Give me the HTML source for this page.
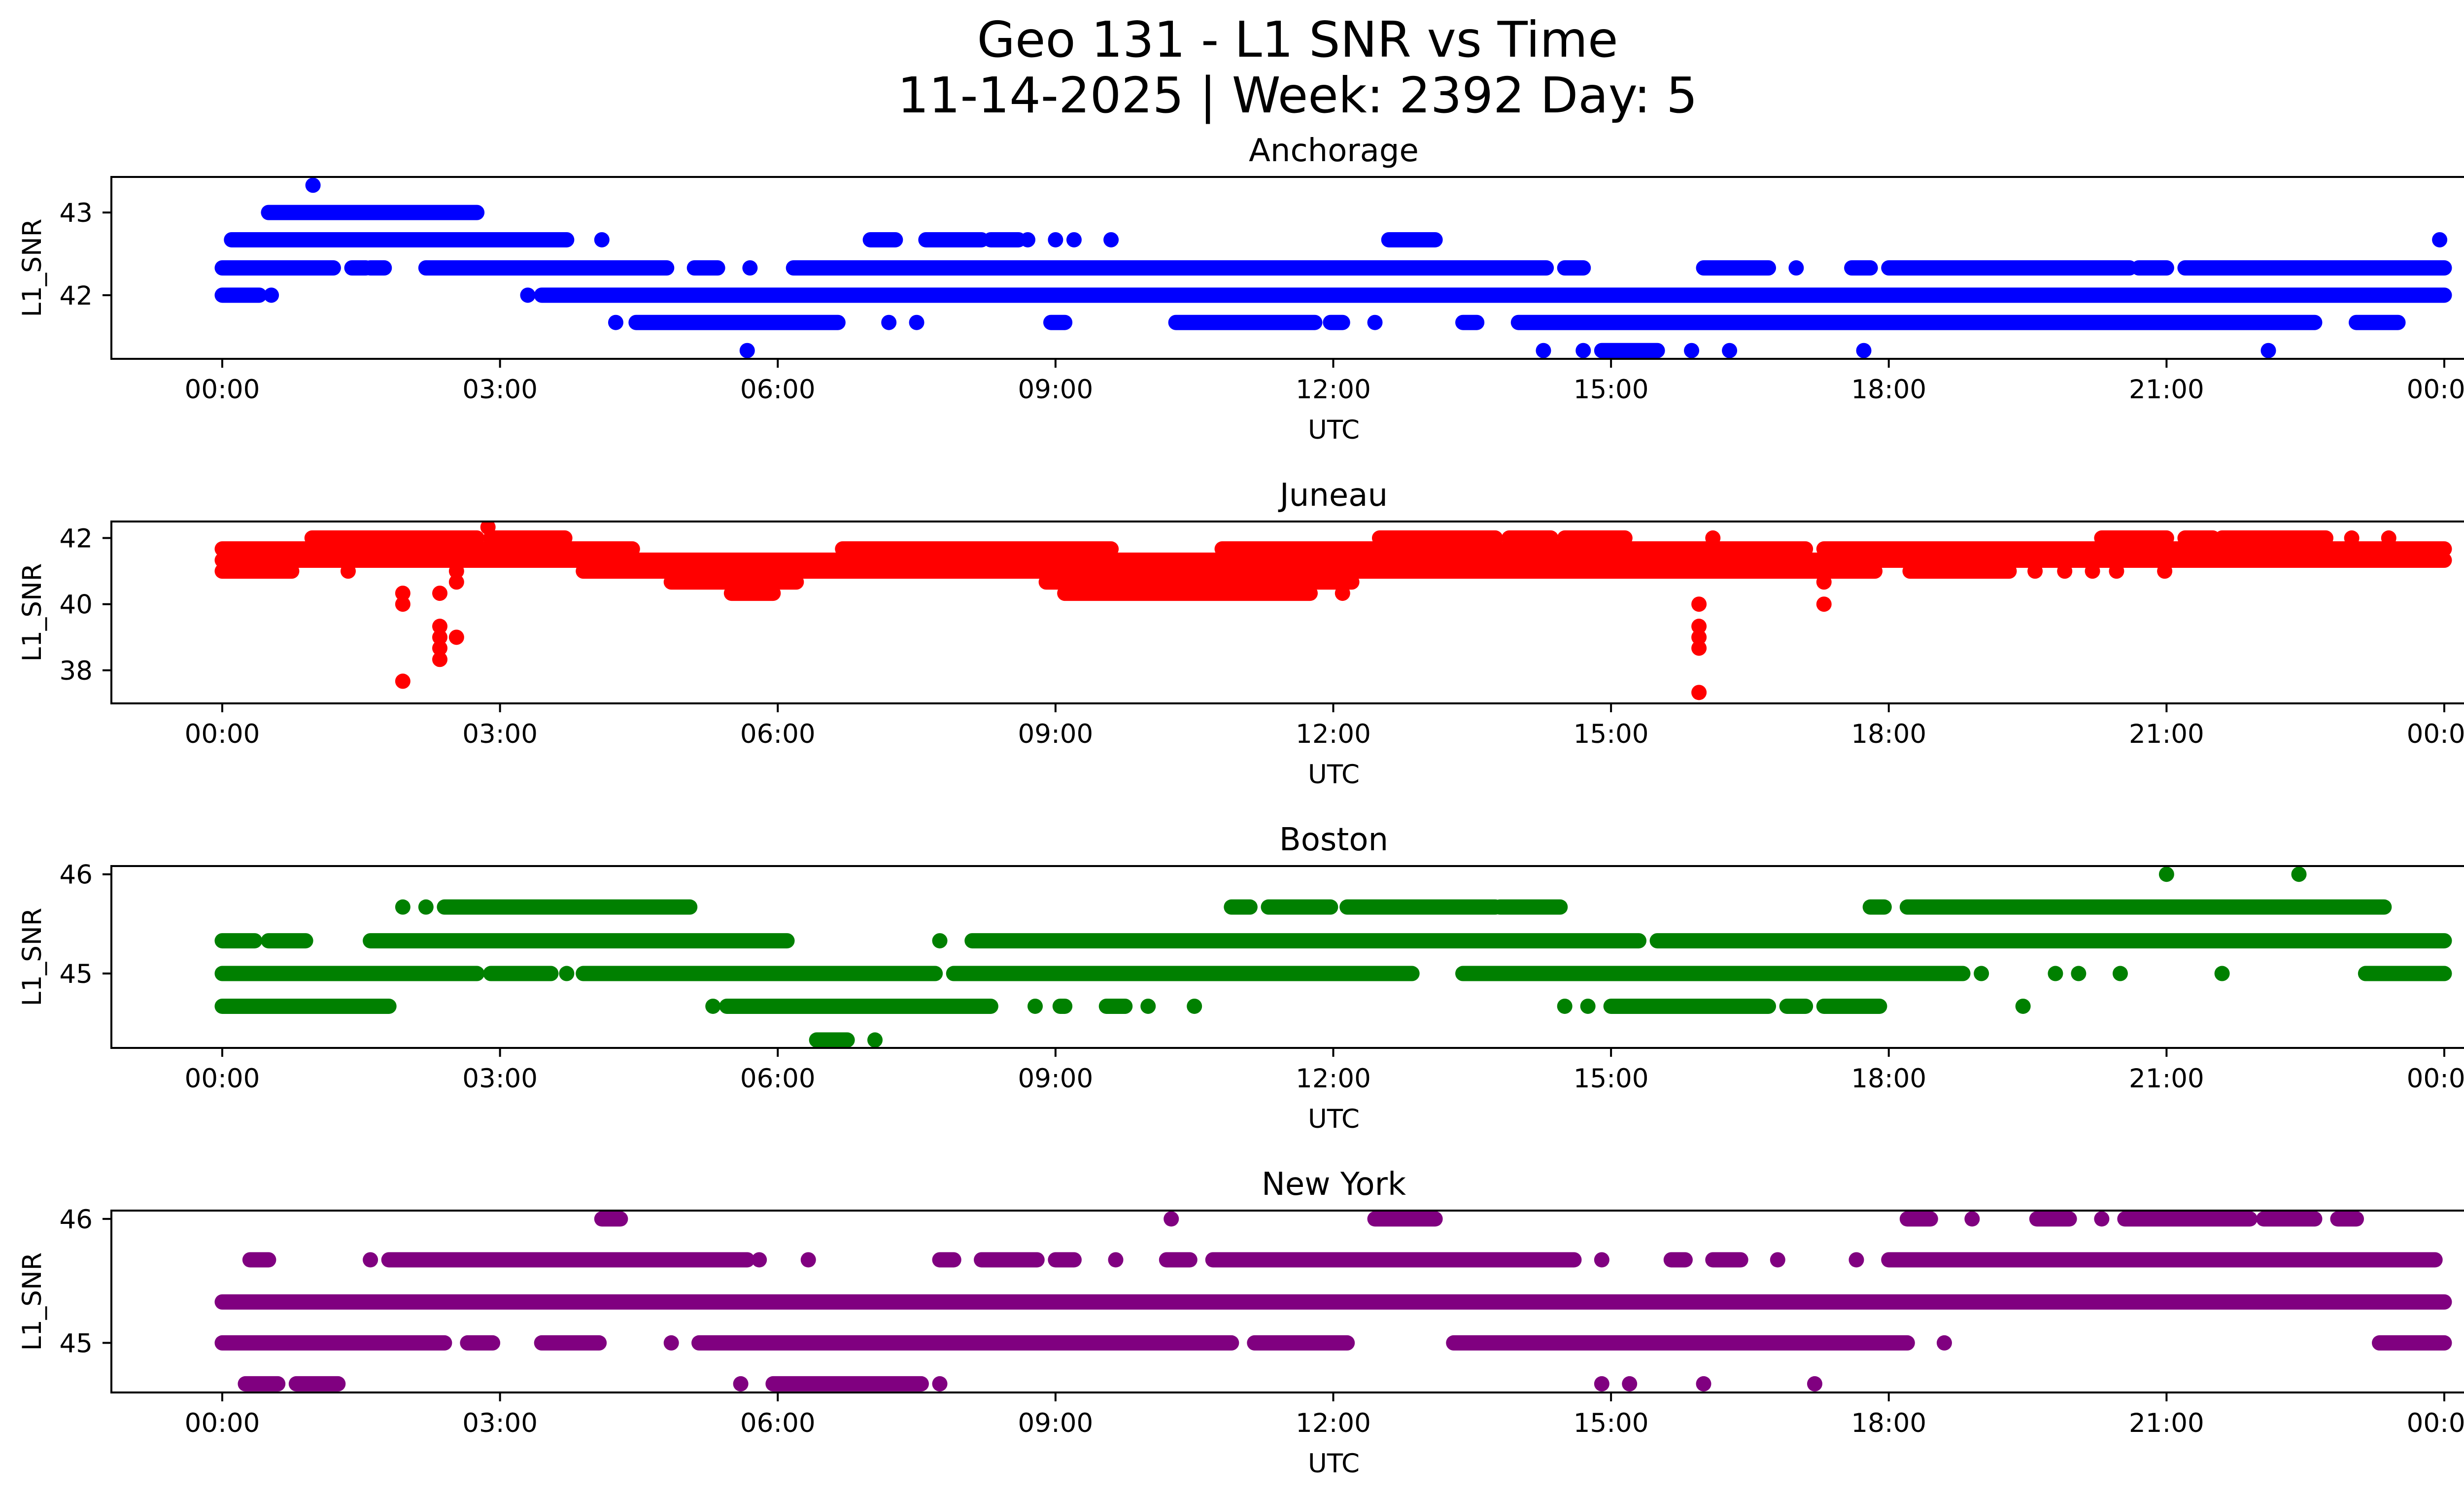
<!DOCTYPE html>
<html><head><meta charset="utf-8"><title>Geo 131 - L1 SNR vs Time</title>
<style>html,body{margin:0;padding:0;background:#fff}svg{display:block}text{font-family:"DejaVu Sans","Liberation Sans",sans-serif;fill:#000}</style>
</head><body>
<svg id="fig" width="5225" height="3033" viewBox="0 0 5225 3033" xmlns="http://www.w3.org/2000/svg">
<rect width="5225" height="3033" fill="#fff"/>
<text x="2633" y="115" font-size="100" text-anchor="middle">Geo 131 - L1 SNR vs Time</text>
<text x="2633" y="228" font-size="100" text-anchor="middle">11-14-2025 | Week: 2392 Day: 5</text>
</svg>
<script>
// ---- data (hours UTC, SNR dB) ----
const xTickHours = [0,3,6,9,12,15,18,21,24];
const xTickLabels = ["00:00","03:00","06:00","09:00","12:00","15:00","18:00","21:00","00:00"];
const panelNames = ["Anchorage","Juneau","Boston","New York"];
const panelColors = ["#0000ff","#ff0000","#008000","#800080"];
const panelYMin = [41.23,37.0,44.25,44.6];
const panelYMax = [43.43,42.5,46.083,46.067];
const anchorageTicks = [42,43];
const juneauTicks = [38,40,42];
const bostonTicks = [45,46];
const newYorkTicks = [45,46];
// runs: [snr, startHour, endHour]
const anchorageRuns = [
 [43.33,0.98,0.98],[43,0.5,2.75],[42.67,0.1,3.72],[42.67,4.1,4.1],[42.67,7.0,7.27],[42.67,7.6,8.2],[42.67,8.3,8.6],[42.67,8.7,8.7],[42.67,9.0,9.0],[42.67,9.2,9.2],[42.67,9.6,9.6],[42.67,12.6,13.1],[42.67,23.95,23.95],
 [42.33,0,0.45],[42.33,0.45,1.2],[42.33,1.4,1.55],[42.33,1.6,1.75],[42.33,2.2,4.8],[42.33,5.1,5.35],[42.33,5.7,5.7],[42.33,6.17,14.3],[42.33,14.5,14.7],[42.33,16.0,16.7],[42.33,17.0,17.0],[42.33,17.6,17.8],[42.33,18.0,20.6],[42.33,20.7,21.0],[42.33,21.2,24],
 [42,0,0.4],[42,0.53,0.53],[42,3.3,3.3],[42,3.45,24],
 [41.67,4.25,4.25],[41.67,4.47,6.65],[41.67,7.2,7.2],[41.67,7.5,7.5],[41.67,8.95,9.1],[41.67,10.3,11.8],[41.67,11.97,12.1],[41.67,12.45,12.45],[41.67,13.4,13.55],[41.67,14.0,22.6],[41.67,23.05,23.5],
 [41.33,5.67,5.67],[41.33,14.27,14.27],[41.33,14.7,14.7],[41.33,14.9,15.5],[41.33,15.87,15.87],[41.33,16.28,16.28],[41.33,17.73,17.73],[41.33,22.1,22.1]
];
const juneauRuns = [
 [42.33,2.87,2.87],
 [42,0.97,2.75],[42,2.9,3.7],[42,12.5,13.75],[42,13.9,14.35],[42,14.5,15.15],[42,16.1,16.1],[42,20.3,21.0],[42,21.2,21.5],[42,21.6,22.72],[42,23.0,23.0],[42,23.4,23.4],
 [41.67,0,4.43],[41.67,6.7,9.6],[41.67,10.8,17.1],[41.67,17.3,24],
 [41.33,0,24],
 [41,0,0.75],[41,1.36,1.36],[41,2.53,2.53],[41,3.9,17.85],[41,18.23,19.3],[41,19.58,19.58],[41,19.9,19.9],[41,20.2,20.2],[41,20.46,20.46],[41,20.98,20.98],
 [40.67,4.85,6.2],[40.67,8.9,12.2],[40.67,2.53,2.53],[40.67,17.3,17.3],
 [40.33,5.5,5.95],[40.33,9.1,11.75],[40.33,12.1,12.1],[40.33,1.95,1.95],[40.33,2.35,2.35],
 [40,1.95,1.95],[40,15.95,15.95],[40,17.3,17.3],
 [39.33,2.35,2.35],[39.33,15.95,15.95],[39,2.35,2.35],[39,2.53,2.53],[39,15.95,15.95],[38.67,2.35,2.35],[38.67,15.95,15.95],[38.33,2.35,2.35],[37.67,1.95,1.95],[37.33,15.95,15.95]
];
const bostonRuns = [
 [46,21.0,21.0],[46,22.43,22.43],
 [45.67,1.95,1.95],[45.67,2.2,2.2],[45.67,2.4,5.05],[45.67,10.9,11.1],[45.67,11.3,11.97],[45.67,12.15,13.75],[45.67,13.8,14.45],[45.67,17.8,17.95],[45.67,18.2,23.35],
 [45.33,0,0.35],[45.33,0.5,0.9],[45.33,1.6,6.1],[45.33,7.75,7.75],[45.33,8.1,15.3],[45.33,15.5,24],
 [45,0,2.75],[45,2.9,3.55],[45,3.72,3.72],[45,3.9,7.7],[45,7.9,12.85],[45,13.4,18.8],[45,19.0,19.0],[45,19.8,19.8],[45,20.05,20.05],[45,20.5,20.5],[45,21.6,21.6],[45,23.15,24],
 [44.67,0,1.8],[44.67,5.3,5.3],[44.67,5.45,8.3],[44.67,8.78,8.78],[44.67,9.05,9.1],[44.67,9.55,9.75],[44.67,10.0,10.0],[44.67,10.5,10.5],[44.67,14.5,14.5],[44.67,14.75,14.75],[44.67,15.0,16.7],[44.67,16.9,17.1],[44.67,17.3,17.9],[44.67,19.45,19.45],
 [44.33,6.42,6.75],[44.33,7.05,7.05]
];
const newYorkRuns = [
 [46,4.1,4.3],[46,10.25,10.25],[46,12.45,13.1],[46,18.2,18.45],[46,18.9,18.9],[46,19.6,19.95],[46,20.3,20.3],[46,20.55,21.9],[46,22.05,22.6],[46,22.85,23.05],
 [45.67,0.3,0.5],[45.67,1.6,1.6],[45.67,1.8,5.67],[45.67,5.8,5.8],[45.67,6.33,6.33],[45.67,7.75,7.9],[45.67,8.2,8.8],[45.67,9.0,9.2],[45.67,9.65,9.65],[45.67,10.2,10.45],[45.67,10.7,14.6],[45.67,14.9,14.9],[45.67,15.65,15.8],[45.67,16.1,16.4],[45.67,16.8,16.8],[45.67,17.65,17.65],[45.67,18.0,23.9],
 [45.33,0,24],
 [45,0,2.4],[45,2.65,2.92],[45,3.45,4.07],[45,4.85,4.85],[45,5.15,10.9],[45,11.15,12.15],[45,13.3,18.2],[45,18.6,18.6],[45,23.3,24],
 [44.67,0.25,0.6],[44.67,0.8,1.25],[44.67,5.6,5.6],[44.67,5.95,7.55],[44.67,7.75,7.75],[44.67,14.9,14.9],[44.67,15.2,15.2],[44.67,16.0,16.0],[44.67,17.2,17.2]
];
const panelRuns = [anchorageRuns, juneauRuns, bostonRuns, newYorkRuns];
const panelTicks = [anchorageTicks, juneauTicks, bostonTicks, newYorkTicks];

// ---- layout ----
const NS = "http://www.w3.org/2000/svg";
const svg = document.getElementById("fig");
const AX_L = 226, AX_R = 5187, AX_H = 369, AX_TOP0 = 359, AX_STEP = 699;
const X0 = 451, X24 = 4960, R = 15.5;
function xScale(h){ return X0 + (X24 - X0) * h / 24; }
function mk(tag, attrs){ const e = document.createElementNS(NS, tag); for (const k in attrs) e.setAttribute(k, attrs[k]); return e; }

panelNames.forEach((name, i) => {
  const top = AX_TOP0 + i * AX_STEP, bot = top + AX_H;
  const ymin = panelYMin[i], ymax = panelYMax[i];
  const yScale = v => bot - (v - ymin) / (ymax - ymin) * AX_H;
  const slug = name.toLowerCase().replace(/ /g, "-");
  const g = mk("g", {});
  
  
  svg.appendChild(g);

  const clipId = "clip" + i;
  const cp = mk("clipPath", {id: clipId});
  cp.appendChild(mk("rect", {x: AX_L, y: top, width: AX_R - AX_L, height: AX_H}));
  g.appendChild(cp);

  const series = mk("g", {"clip-path": "url(#" + clipId + ")", fill: panelColors[i], stroke: panelColors[i]});
  
  
  g.appendChild(series);
  panelRuns[i].forEach(r => {
    const y = yScale(r[0]);
    let m;
    if (r[1] === r[2]) {
      m = mk("circle", {cx: xScale(r[1]), cy: y, r: R, stroke: "none"});
    } else {
      m = mk("line", {x1: xScale(r[1]), x2: xScale(r[2]), y1: y, y2: y, "stroke-width": 2 * R, "stroke-linecap": "round"});
    }
    
    
    series.appendChild(m);
  });

  const frame = mk("rect", {x: AX_L, y: top, width: AX_R - AX_L, height: AX_H, fill: "none", stroke: "#000", "stroke-width": 4});
  
  
  g.appendChild(frame);

  const title = mk("text", {x: (AX_L + AX_R) / 2, y: top - 32, "font-size": 64, "text-anchor": "middle"});
  title.textContent = name;
  
  
  g.appendChild(title);

  xTickHours.forEach((h, k) => {
    const x = xScale(h);
    const t = mk("line", {x1: x, x2: x, y1: bot, y2: bot + 18, stroke: "#000", "stroke-width": 4});
    
    
    g.appendChild(t);
    const l = mk("text", {x: x, y: bot + 80, "font-size": 53, "text-anchor": "middle"});
    l.textContent = xTickLabels[k];
    
    
    g.appendChild(l);
  });
  panelTicks[i].forEach(v => {
    const y = yScale(v);
    const t = mk("line", {x1: AX_L - 18, x2: AX_L, y1: y, y2: y, stroke: "#000", "stroke-width": 4});
    
    
    g.appendChild(t);
    const l = mk("text", {x: AX_L - 38, y: y + 19, "font-size": 53, "text-anchor": "end"});
    l.textContent = String(v);
    
    
    g.appendChild(l);
  });
  const xl = mk("text", {x: (AX_L + AX_R) / 2, y: bot + 162, "font-size": 53, "text-anchor": "middle"});
  xl.textContent = "UTC";
  
  
  g.appendChild(xl);
  const yc = (top + bot) / 2;
  const yl = mk("text", {x: 0, y: 0, "font-size": 53, "text-anchor": "middle", transform: "translate(83," + yc + ") rotate(-90)"});
  yl.textContent = "L1_SNR";
  
  
  g.appendChild(yl);
});
</script>
</body></html>
